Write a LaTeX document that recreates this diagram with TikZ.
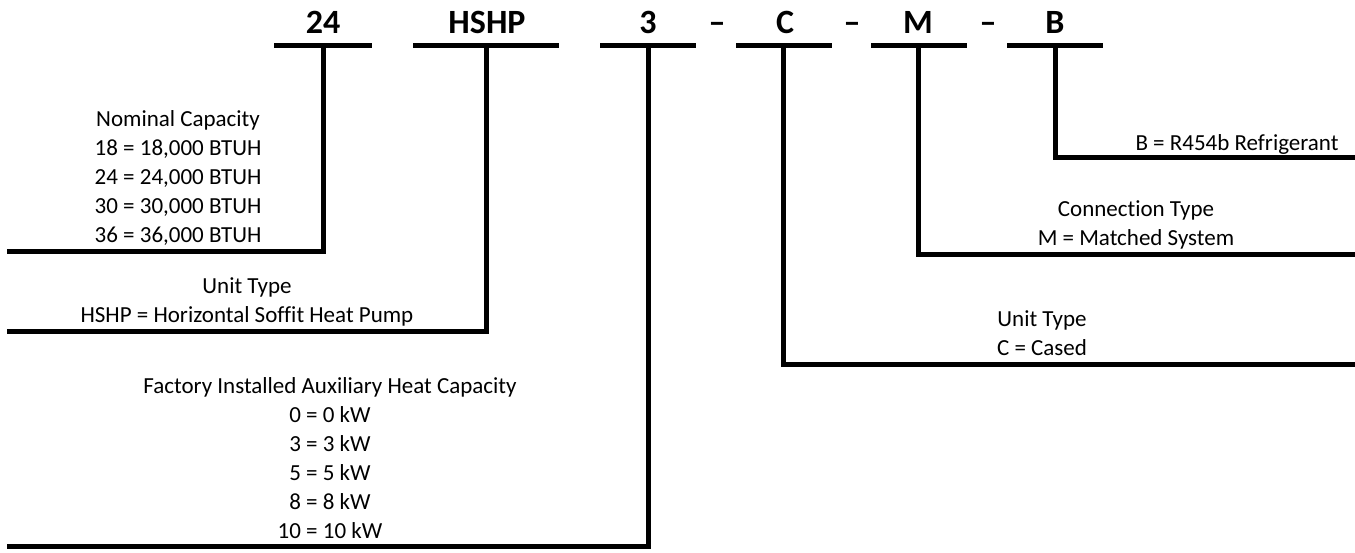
\documentclass[tikz,border=0pt]{standalone}
\usepackage{fontspec}
\setmainfont{Carlito}[Ligatures=NoCommon]
\newcommand\lns[1]{\begin{tabular}[b]{@{}c@{}}#1\end{tabular}}
\begin{document}
\begin{tikzpicture}[x=1pt,y=-1pt,
  bar/.style={line width=5pt, line cap=butt, line join=miter},
  code/.style={font=\fontsize{34}{40}\selectfont\bfseries, inner sep=0pt, anchor=base},
  desc/.style={font=\fontsize{23}{29}\selectfont, inner sep=0pt, anchor=base}]
\useasboundingbox (0,0) rectangle (1355,552);
% code letters
\node[code] (t24) at (323,33) {24};
\node[code] (thshp) at (487,33) {HSHP};
\node[code] (t3) at (648,33) {3};
\node[code] (d1) at (717,33) {\textendash};
\node[code] (tc) at (785,33) {C};
\node[code] (d2) at (852,33) {\textendash};
\node[code] (tm) at (918,33) {M};
\node[code] (d3) at (988,33) {\textendash};
\node[code] (tb) at (1055,33) {B};
% top bars
\coordinate (a1) at (274,45); \coordinate (a2) at (372,45);
\coordinate (b1) at (413,45); \coordinate (b2) at (559,45);
\coordinate (c1) at (600,45); \coordinate (c2) at (696,45);
\coordinate (e1) at (736,45); \coordinate (e2) at (832,45);
\coordinate (f1) at (871,45); \coordinate (f2) at (967,45);
\coordinate (g1) at (1007,45); \coordinate (g2) at (1103,45);
\draw[bar] (a1) -- (a2);
\draw[bar] (b1) -- (b2);
\draw[bar] (c1) -- (c2);
\draw[bar] (e1) -- (e2);
\draw[bar] (f1) -- (f2);
\draw[bar] (g1) -- (g2);
% leaders
\coordinate (v24) at (323,45); \coordinate (k24) at (323,251); \coordinate (z24) at (7,251);
\coordinate (vh) at (486,45); \coordinate (kh) at (486,331); \coordinate (zh) at (7,331);
\coordinate (v3) at (648,45); \coordinate (k3) at (648,546); \coordinate (z3) at (7,546);
\coordinate (vc) at (783,45); \coordinate (kc) at (783,364); \coordinate (zc) at (1355,364);
\coordinate (vm) at (918,45); \coordinate (km) at (918,254); \coordinate (zm) at (1355,254);
\coordinate (vb) at (1055,45); \coordinate (kb) at (1055,157); \coordinate (zb) at (1355,157);
\draw[bar] (v24) -- (k24) -- (z24);
\draw[bar] (vh) -- (kh) -- (zh);
\draw[bar] (v3) -- (k3) -- (z3);
\draw[bar] (vc) -- (kc) -- (zc);
\draw[bar] (vm) -- (km) -- (zm);
\draw[bar] (vb) -- (kb) -- (zb);
% descriptions
\node[desc] (nom) at (178,242) {\lns{Nominal Capacity\\18 = 18,000 BTUH\\24 = 24,000 BTUH\\30 = 30,000 BTUH\\36 = 36,000 BTUH}};
\node[desc] (utype) at (247,322) {\lns{Unit Type\\HSHP = Horizontal Soffit Heat Pump}};
\node[desc] (aux) at (330,538) {\lns{Factory Installed Auxiliary Heat Capacity\\0 = 0 kW\\3 = 3 kW\\5 = 5 kW\\8 = 8 kW\\10 = 10 kW}};
\node[desc] (cased) at (1042,355) {\lns{Unit Type\\C = Cased}};
\node[desc] (conn) at (1136,245) {\lns{Connection Type\\M = Matched System}};
\node[desc] (refr) at (1237,150) {B = R454b Refrigerant};
\end{tikzpicture}
\end{document}
